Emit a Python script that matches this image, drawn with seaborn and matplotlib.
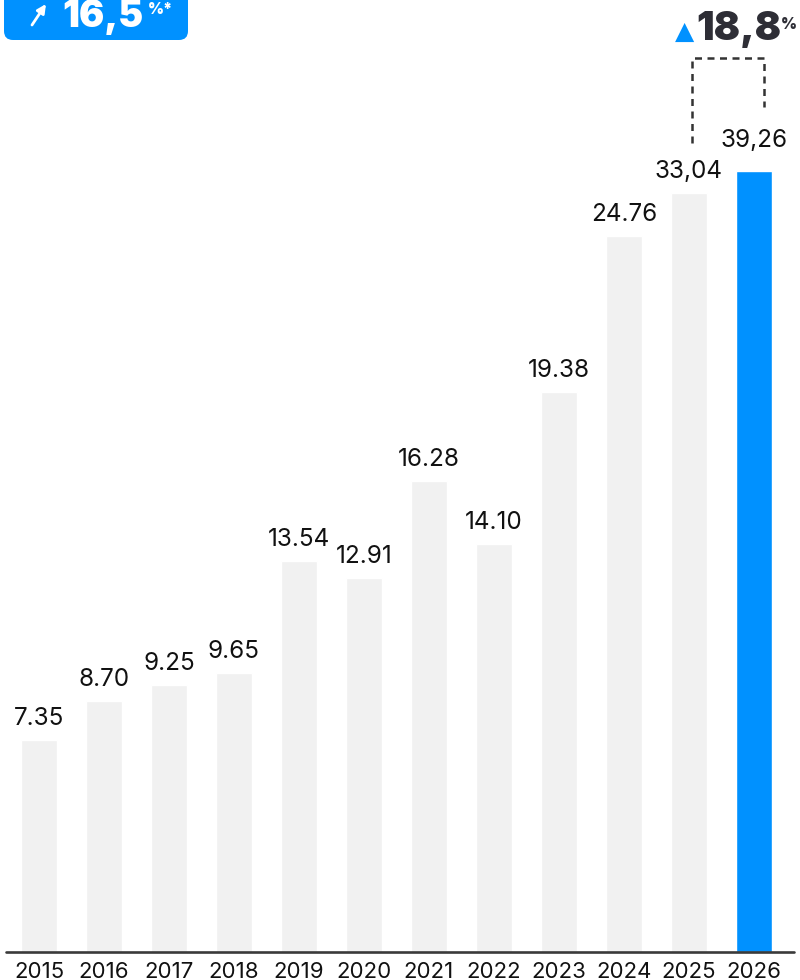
import matplotlib
matplotlib.use("Agg")
import matplotlib.pyplot as plt
import seaborn as sns
from matplotlib.patches import FancyBboxPatch, FancyArrowPatch
from matplotlib.transforms import IdentityTransform

# datos
years = ["2015", "2016", "2017", "2018", "2019", "2020",
         "2021", "2022", "2023", "2024", "2025", "2026"]
value_labels = ["7.35", "8.70", "9.25", "9.65", "13.54", "12.91",
                "16.28", "14.10", "19.38", "24.76", "33,04", "39,26"]
# altura visual de cada barra (la escala del original no es lineal)
bar_heights = [212, 251, 267, 279, 391, 374, 471, 408, 560, 716, 759, 781]
badge_text = "16,5"
growth_text = "18,8"

blue = "#0091FF"
gray = "#F1F1F1"
dark = "#2E2E36"

sns.set_theme(style="white")
plt.rcParams["font.family"] = ["Inter", "DejaVu Sans"]

fig = plt.figure(figsize=(8, 9.8), dpi=100)
ax = fig.add_axes([0, 28 / 980, 1, 952 / 980])

colores = [gray] * (len(years) - 1) + [blue]
sns.barplot(x=years, y=bar_heights, hue=years, palette=colores,
            legend=False, width=0.555, saturation=1, ax=ax)

# etiquetas de valores encima de las barras
for i, (cont, lab) in enumerate(zip(ax.containers, value_labels)):
    pad = 14 if i == len(years) - 1 else 7
    ax.bar_label(cont, labels=[lab], padding=pad, fontsize=17.5, color="#111111")

ax.set_xlim(-0.6, 11.708)
ax.set_ylim(0, 952)
ax.set_xlabel("")
ax.set_ylabel("")
ax.set_yticks([])
ax.tick_params(axis="x", length=0, pad=7, labelsize=16, labelcolor="#111111")
for s in ax.spines.values():
    s.set_visible(False)
ax.axhline(0, xmin=6 / 800, xmax=794 / 800, color="#3A3A3A", lw=1.9, clip_on=False)

# corchete punteado entre 2025 y 2026
bx0 = 10 + 0.05
bx1 = 11 + 0.155
ytop = 894
ax.plot([bx0, bx0, bx1, bx1],
        [bar_heights[10] + 50, ytop, ytop, bar_heights[11] + 64],
        color="#333333", lw=1.8, linestyle=(0, (2.8, 2.2)), clip_on=False)

# cuadro azul arriba a la izquierda
px = IdentityTransform()
badge = FancyBboxPatch((4, 940), 184, 70, boxstyle="round,pad=0,rounding_size=9",
                       transform=px, fc=blue, ec="none")
fig.add_artist(badge)
fig.add_artist(FancyArrowPatch((32, 955), (46, 976), arrowstyle="-|>",
                               mutation_scale=13, lw=2.0, color="white",
                               shrinkA=0, shrinkB=0, transform=px))
fig.text(62, 953, badge_text, transform=px, fontsize=27, fontweight="black",
         color="white", va="baseline", ha="left")
fig.text(148, 978, "%*", transform=px, fontsize=11, fontweight="black",
         color="white", va="top", ha="left")

# crecimiento arriba a la derecha
fig.text(675, 941, "▲", transform=px, fontsize=18, color=blue,
         va="baseline", ha="left", family=["DejaVu Sans"])
fig.text(696, 940, growth_text, transform=px, fontsize=28, fontweight="black",
         color=dark, va="baseline", ha="left")
fig.text(781, 963, "%", transform=px, fontsize=11, fontweight="black",
         color=dark, va="top", ha="left")

fig.savefig("out.png", dpi=100)
